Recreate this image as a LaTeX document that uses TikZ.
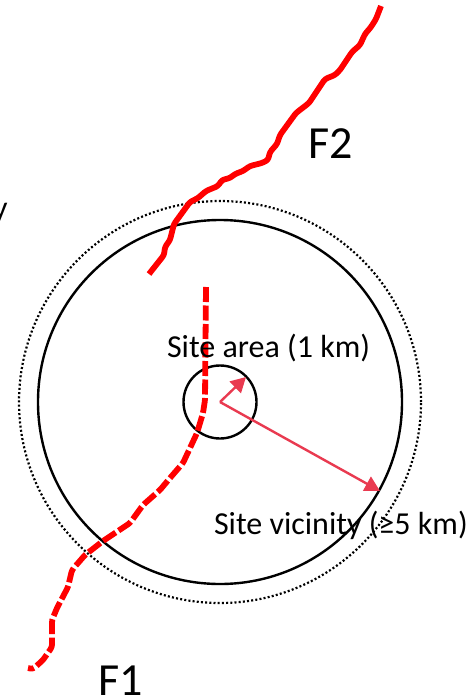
\documentclass[tikz,border=0pt]{standalone}
\usepackage{fontspec}
\setmainfont{Carlito}
\usetikzlibrary{arrows.meta}
\definecolor{arrowred}{HTML}{E93A50}
\tikzset{
  fault/.style={draw=red,line width=5.8pt,line join=round,rounded corners=2.5pt},
  faultdash/.style={fault,dash pattern=on 15pt off 3.5pt},
  ring/.style={draw=black,line width=2.4pt,circle,minimum size=#1,inner sep=0pt,outer sep=0pt},
  dotring/.style={draw=black,line width=2.2pt,dash pattern=on 2pt off 2.2pt,circle,minimum size=#1,inner sep=0pt,outer sep=0pt},
  radius arrow/.style={draw=arrowred,line width=2.4pt,-{Triangle[length=15pt,width=16pt]}},
  lab/.style={inner sep=0pt,outer sep=0pt,font=\fontsize{32}{38}\selectfont,anchor=base west},
  big/.style={inner sep=0pt,outer sep=0pt,font=\fontsize{46}{54}\selectfont,anchor=base west}
}
\begin{document}
\begin{tikzpicture}[x=1pt,y=-1pt]
\useasboundingbox (0,0) rectangle (471,698);
\node[dotring=402pt] (outer) at (220,402) {};
\node[ring=364pt] (vicinity) at (220,402) {};
\node[ring=73pt] (site) at (220,402) {};
\coordinate (c) at (220,402);
\coordinate (a1) at (246,377);
\coordinate (a2) at (380,491);
\draw[fault] (381,6) -- (376,19) -- (371,27) -- (365,34) -- (360,45) -- (352,52) -- (340,70) -- (335,75) -- (325,79) -- (309,103) -- (296,113) -- (280,135) -- (277,144) -- (270,152) -- (268,160) -- (262,163) -- (250,166) -- (243,171) -- (235,174) -- (230,178) -- (222,180) -- (218,186) -- (206,191) -- (198,198) -- (190,202) -- (182,213) -- (174,224) -- (170,240) -- (165,247) -- (164,255) -- (149,274);
\draw[faultdash] (206,287) -- (205,400) -- (203,413) -- (197,433) -- (183,463) -- (170,478) -- (160,490) -- (143,505) -- (130,523) -- (115,533) -- (103,541) -- (85,555) -- (72,570) -- (68,587) -- (57,608) -- (52,620) -- (52,647) -- (43,660) -- (33,669) -- (28,668);
\draw[radius arrow] (c) -- (a1);
\draw[radius arrow] (c) -- (a2);
\node[lab] (t1) at (167,357) {Site area (1 km)};
\node[lab] (t2) at (214,534) {Site vicinity (≥5 km)};
\node[big] (f2) at (308,158) {F2};
\node[big] (f1) at (98,695) {F1};
\node[lab,anchor=base east] (y) at (7.5,218) {y};
\end{tikzpicture}
\end{document}
